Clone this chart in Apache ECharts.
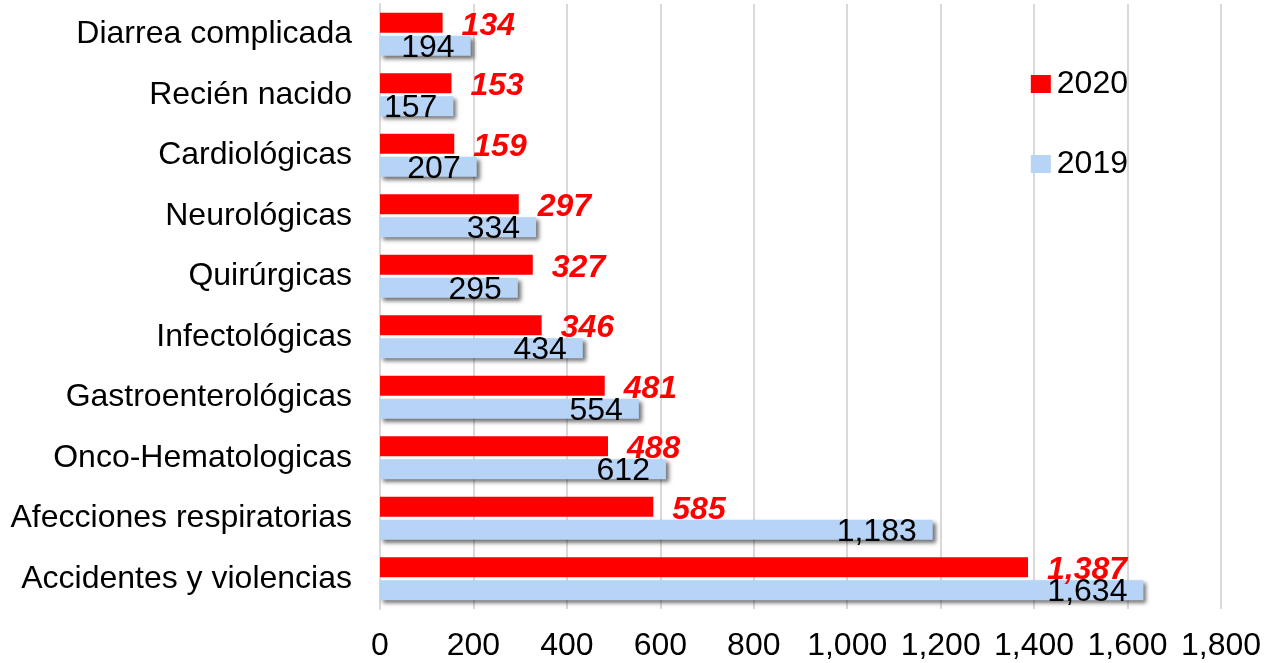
<!DOCTYPE html>
<html><head><meta charset="utf-8">
<script src="https://cdn.jsdelivr.net/npm/echarts@6/dist/echarts.min.js"></script>
<style>html,body{margin:0;padding:0;background:#fff}#c{width:1266px;height:663px}</style>
</head><body><div id="c"></div>
<script>
const categories = ["Diarrea complicada","Recién nacido","Cardiológicas","Neurológicas","Quirúrgicas","Infectológicas","Gastroenterológicas","Onco-Hematologicas","Afecciones respiratorias","Accidentes y violencias"];
const values2020 = [134,153,159,297,327,346,481,488,585,1387];
const values2019 = [194,157,207,334,295,434,554,612,1183,1634];
const xTicks = [0,200,400,600,800,1000,1200,1400,1600,1800];

const fmt = v => v.toLocaleString('en-US');
const chart = echarts.init(document.getElementById('c'));
chart.setOption({
  animation:false,
  textStyle:{fontFamily:'Liberation Sans, Arial, sans-serif'},
  grid:{left:380,right:45,top:4,bottom:54},
  legend:{orient:'vertical',right:133,top:63,itemGap:48,itemWidth:20,itemHeight:18,
    icon:'rect',textStyle:{fontSize:32,color:'#000',fontFamily:'Liberation Sans',padding:[0,0,0,1]},
    data:['2020','2019']},
  xAxis:{type:'value',min:xTicks[0],max:xTicks[xTicks.length-1],interval:200,
    axisLine:{show:false},axisTick:{show:false},
    splitLine:{lineStyle:{color:'#d9d9d9',width:2}},
    axisLabel:{fontSize:32,color:'#000',margin:21,formatter:v=>fmt(v)}},
  yAxis:{type:'category',inverse:true,data:categories,
    axisLine:{lineStyle:{color:'#d9d9d9',width:2}},axisTick:{show:false},
    axisLabel:{fontSize:32,color:'#000',margin:28}},
  series:[
    {name:'2020',type:'bar',data:values2020,barWidth:20,barGap:'15%',
     itemStyle:{color:'#ff0000'},
     label:{show:true,position:'right',distance:19,offset:[0,3],color:'#ff0000',fontSize:32,fontWeight:'bold',fontStyle:'italic',formatter:p=>fmt(p.value)}},
    {name:'2019',type:'bar',data:values2019,barWidth:20,
     itemStyle:{color:'#b7d3f6',shadowColor:'rgba(0,0,0,0.55)',shadowBlur:4,shadowOffsetX:3,shadowOffsetY:3},
     label:{show:true,position:'insideRight',distance:16,offset:[0,2],color:'#000',fontSize:32,formatter:p=>fmt(p.value)}}
  ]
});
</script></body></html>
